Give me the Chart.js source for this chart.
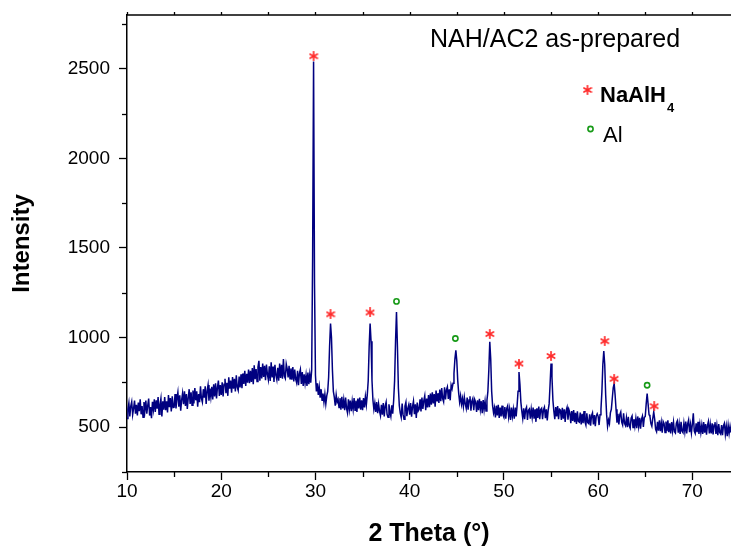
<!DOCTYPE html>
<html>
<head>
<meta charset="utf-8">
<script src="https://cdn.jsdelivr.net/npm/chart.js@4.4.1/dist/chart.umd.min.js"></script>
<style>
html,body{margin:0;padding:0;background:#ffffff;}
canvas{display:block;}
</style>
</head>
<body>
<canvas id="c" width="731" height="546"></canvas>
<script>
// ---- data ----
const angleStart = 10.0;   // first 2-theta value of the scan
const angleStep = 0.1;     // scan step (degrees)
// intensity, one row per degree (x.0 ... x.9)
const intensity = [
  548,600,635,560,618,642,570,605,648,575,   // 10
  625,565,638,590,655,572,618,555,640,592,   // 11
  648,575,620,660,565,612,550,642,598,655,   // 12
  585,650,603,668,572,625,660,560,645,598,   // 13
  668,595,645,582,680,612,662,588,672,610,   // 14
  612,685,605,660,695,615,678,592,652,690,   // 15
  628,700,618,685,602,665,712,630,695,622,   // 16
  705,632,718,650,700,615,685,640,728,660,   // 17
  640,712,665,728,630,702,735,648,715,668,   // 18
  725,655,740,672,745,660,722,760,675,735,   // 19
  680,750,672,740,770,690,748,675,778,715,   // 20
  760,692,780,715,770,700,790,722,705,782,   // 21
  722,795,718,800,742,815,730,798,748,822,   // 22
  745,815,752,830,740,845,768,825,755,835,   // 23
  870,760,835,772,855,780,842,762,850,795,   // 24
  765,840,758,862,778,838,752,848,790,765,   // 25
  832,760,855,775,848,770,880,785,772,852,   // 26
  825,778,842,770,828,765,835,755,822,768,   // 27
  748,815,735,800,822,742,808,730,795,745,   // 28
  790,730,805,740,795,748,820,1450,2540,1300,// 29
  790,700,745,680,725,665,712,650,688,640,   // 30
  685,630,675,700,780,950,1078,1000,820,700, // 31
  668,620,680,640,655,610,662,598,670,605,   // 32
  652,595,665,605,580,655,600,648,590,645,   // 33
  600,662,595,648,585,660,605,665,598,650,   // 34
  595,662,610,670,625,680,760,950,1078,980,  // 35
  760,650,600,635,585,640,578,630,590,565,   // 36
  625,570,635,560,618,640,572,555,628,585,   // 37
  560,622,575,650,760,980,1143,950,720,620,  // 38
  578,555,632,570,545,618,640,562,605,625,   // 39
  570,635,558,615,645,572,628,552,638,590,   // 40
  600,655,588,665,602,648,675,595,660,610,   // 41
  680,612,688,625,695,632,685,615,705,648,   // 42
  690,635,710,645,718,660,642,722,655,708,   // 43
  725,658,712,650,735,715,745,800,880,929,   // 44
  870,760,690,640,675,628,660,615,668,630,   // 45
  605,665,598,652,672,592,645,660,595,655,   // 46
  640,585,650,595,658,600,645,578,652,598,   // 47
  645,590,650,700,820,976,880,700,620,580,   // 48
  608,555,620,565,625,552,610,560,620,568,   // 49
  555,612,548,605,620,558,600,540,610,560,   // 50
  600,548,610,560,620,700,808,740,640,590,   // 51
  550,605,545,598,612,540,595,602,548,600,   // 52
  555,610,548,600,530,605,552,615,545,598,   // 53
  605,545,598,612,550,600,538,595,630,740,   // 54
  855,780,650,590,545,612,560,618,545,600,   // 55
  595,540,608,548,600,530,592,610,542,598,   // 56
  580,522,590,535,595,528,580,518,588,532,   // 57
  528,582,515,575,522,590,530,512,578,525,   // 58
  520,572,508,565,580,515,568,505,562,575,   // 59
  560,512,570,600,700,850,925,850,680,570,   // 60
  505,540,520,580,600,660,720,743,680,600,   // 61
  525,575,515,570,585,528,512,578,522,510,   // 62
  552,500,558,508,495,550,562,498,545,505,   // 63
  548,495,560,505,552,492,545,562,502,555,   // 64
  560,630,688,630,570,560,520,505,550,585,   // 65
  545,488,475,530,480,538,478,525,470,532,   // 66
  520,470,532,478,538,472,522,465,528,480,   // 67
  528,475,468,522,535,470,518,462,530,478,   // 68
  470,522,475,532,465,518,540,472,515,468,   // 69
  518,578,478,465,522,472,530,462,515,470,   // 70
  512,462,528,470,518,458,510,532,465,515,   // 71
  465,522,460,512,528,463,510,455,518,470,   // 72
  462,512,455,508,522,460,505,450,510,465,   // 73
  505,470                                    // 74
];
// phase markers placed above the peaks
const naalh4MarkX = [29.8, 31.6, 35.8, 48.5, 51.6, 55.0, 60.7, 61.7, 65.95];
const naalh4MarkY = [2570, 1130, 1140, 1020, 855, 897, 980, 770, 617];
const alMarkX = [38.6, 44.85, 65.2];
const alMarkY = [1202, 995, 734];
// axes
const xTickValues = [10, 20, 30, 40, 50, 60, 70];
const xMinorValues = [15, 25, 35, 45, 55, 65];
const yTickValues = [500, 1000, 1500, 2000, 2500];
const yMinorValues = [250, 750, 1250, 1750, 2250, 2750];
const xRange = [10, 74.1];
const yRange = [250, 2800];
const chartTitle = 'NAH/AC2 as-prepared';
const legendNames = ['NaAlH', '4', 'Al'];
const xTitle = '2 Theta (°)';
const yTitle = 'Intensity';

// ---- build datasets ----
const pattern = intensity.map((v, i) => ({ x: +(angleStart + i * angleStep).toFixed(2), y: v }));
const naalh4Points = naalh4MarkX.map((x, i) => ({ x: x, y: naalh4MarkY[i] }));
const alPoints = alMarkX.map((x, i) => ({ x: x, y: alMarkY[i] }));

const RED = '#ff2b2b';
const GREEN = '#179a17';
const FONT = '"Liberation Sans", Arial, Helvetica, sans-serif';

function makeAsterisk(size, color, lw) {
  const c = document.createElement('canvas');
  c.width = size; c.height = size;
  const g = c.getContext('2d');
  const r = size / 2 - 0.8;
  const m = size / 2;
  g.strokeStyle = color; g.lineWidth = lw; g.lineCap = 'round';
  for (const a of [90, 30, -30]) {
    const rad = a * Math.PI / 180;
    g.beginPath();
    g.moveTo(m - r * Math.cos(rad), m - r * Math.sin(rad));
    g.lineTo(m + r * Math.cos(rad), m + r * Math.sin(rad));
    g.stroke();
  }
  return c;
}
const starImg = makeAsterisk(10, RED, 1.7);

const extras = {
  id: 'extras',
  afterDraw(chart) {
    const ctx = chart.ctx;
    const a = chart.chartArea;
    const xs = chart.scales.x, ys = chart.scales.y;
    ctx.save();
    ctx.strokeStyle = '#000';
    ctx.lineWidth = 1.5;
    // top axis line
    ctx.beginPath();
    ctx.moveTo(a.left - 0.75, a.top);
    ctx.lineTo(a.right, a.top);
    ctx.stroke();
    ctx.lineWidth = 1.3;
    // minor ticks on bottom axis
    for (const v of xMinorValues) {
      const px = Math.round(xs.getPixelForValue(v)) + 0.5;
      ctx.beginPath(); ctx.moveTo(px, a.bottom); ctx.lineTo(px, a.bottom + 5); ctx.stroke();
    }
    // small ticks on top axis
    for (const v of xTickValues.concat(xMinorValues)) {
      const px = Math.round(xs.getPixelForValue(v)) + 0.5;
      ctx.beginPath(); ctx.moveTo(px, a.top); ctx.lineTo(px, a.top - 3); ctx.stroke();
    }
    // minor ticks on left axis
    for (const v of yMinorValues) {
      const py = Math.round(ys.getPixelForValue(v)) + 0.5;
      ctx.beginPath(); ctx.moveTo(a.left, py); ctx.lineTo(a.left - 5, py); ctx.stroke();
    }
    // chart title
    ctx.fillStyle = '#000';
    ctx.textBaseline = 'alphabetic';
    ctx.textAlign = 'left';
    ctx.font = '25px ' + FONT;
    ctx.fillText(chartTitle, 430, 47);
    // legend
    ctx.drawImage(starImg, 587.5 - 5, 90 - 5);
    ctx.font = 'bold 22px ' + FONT;
    ctx.fillText(legendNames[0], 600, 102);
    const w = ctx.measureText(legendNames[0]).width;
    ctx.font = 'bold 13px ' + FONT;
    ctx.fillText(legendNames[1], 600 + w + 1, 112);
    ctx.beginPath();
    ctx.strokeStyle = GREEN; ctx.lineWidth = 1.6;
    ctx.arc(590.5, 129, 2.6, 0, Math.PI * 2);
    ctx.stroke();
    ctx.font = '22px ' + FONT;
    ctx.fillText(legendNames[2], 603, 142);
    ctx.restore();
  }
};

new Chart(document.getElementById('c'), {
  type: 'line',
  data: {
    datasets: [
      {
        label: 'NAH/AC2', data: pattern, borderColor: '#000080', borderWidth: 1.5,
        pointRadius: 0, tension: 0, fill: false, order: 3
      },
      {
        type: 'scatter', label: 'NaAlH4', data: naalh4Points, pointStyle: starImg,
        pointRadius: 5, order: 1
      },
      {
        type: 'scatter', label: 'Al', data: alPoints, pointStyle: 'circle', pointRadius: 2.6,
        borderColor: GREEN, backgroundColor: 'rgba(0,0,0,0)', borderWidth: 1.6, order: 2
      }
    ]
  },
  options: {
    responsive: false,
    animation: false,
    devicePixelRatio: 1,
    layout: { autoPadding: false, padding: { top: 15, right: 0, left: 0, bottom: 0 } },
    plugins: { legend: { display: false }, tooltip: { enabled: false } },
    scales: {
      x: {
        type: 'linear', min: xRange[0], max: xRange[1],
        afterBuildTicks: s => { s.ticks = xTickValues.map(v => ({ value: v })); },
        afterFit: s => { s.height = 74; s.paddingRight = 0; s.paddingLeft = 0; },
        grid: { drawOnChartArea: false, drawTicks: true, tickLength: 8, color: '#000', tickWidth: 1.3 },
        border: { display: true, color: '#000', width: 1.5 },
        ticks: { color: '#000', font: { family: FONT, size: 19 }, padding: 0, maxRotation: 0, autoSkip: false, callback: v => String(v) },
        title: { display: true, text: xTitle, color: '#000', font: { family: FONT, size: 25, weight: 'bold', lineHeight: 1 }, padding: { top: 0, bottom: -1 } }
      },
      y: {
        type: 'linear', min: yRange[0], max: yRange[1],
        afterBuildTicks: s => { s.ticks = yTickValues.map(v => ({ value: v })); },
        afterFit: s => { s.width = 127; s.paddingTop = 0; s.paddingBottom = 0; },
        grid: { drawOnChartArea: false, drawTicks: true, tickLength: 8, color: '#000', tickWidth: 1.3 },
        border: { display: true, color: '#000', width: 1.5 },
        ticks: { color: '#000', font: { family: FONT, size: 19 }, padding: 9, autoSkip: false, callback: v => String(v) },
        title: { display: true, text: yTitle, color: '#000', font: { family: FONT, size: 24, weight: 'bold', lineHeight: 1 }, padding: { top: 10, bottom: 0 } }
      }
    }
  },
  plugins: [extras]
});
</script>
</body>
</html>
